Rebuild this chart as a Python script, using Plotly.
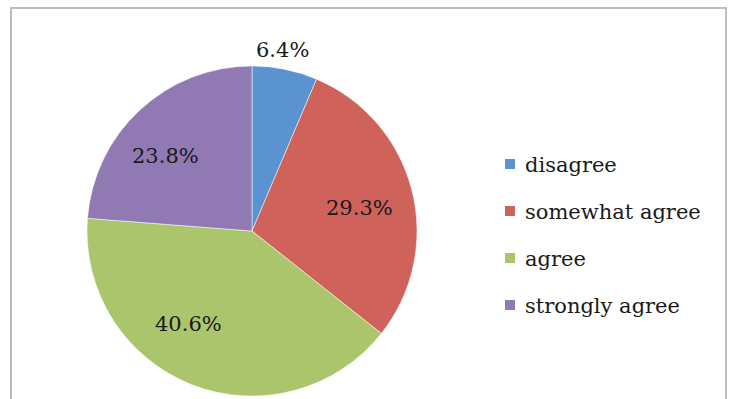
import math
import plotly.graph_objects as go

# Survey responses (percent of respondents)
labels = ["disagree", "somewhat agree", "agree", "strongly agree"]
values = [6.4, 29.3, 40.6, 23.8]
colors = ["#5A93CF", "#D0625C", "#AAC56C", "#9179B3"]

W, H = 730, 399
FONT = "DejaVu Serif"

# pie geometry in pixels
CX, CY, R = 252, 231, 165

# label placement: angular nudge (deg) and radial fraction per slice
label_nudge = [-1.8, 2.3, 13.1, -6.1]
label_frac = [1.113, 0.669, 0.684, 0.692]


def px(x):
    return x / W


def py(y):
    return 1 - y / H


fig = go.Figure(
    go.Pie(
        labels=labels,
        values=values,
        sort=False,
        direction="clockwise",
        rotation=0,
        marker=dict(colors=colors, line=dict(color="rgba(255,255,255,0.5)", width=1)),
        textinfo="none",
        hoverinfo="label+percent",
        showlegend=False,
        domain=dict(x=[px(CX - R), px(CX + R)], y=[py(CY + R), py(CY - R)]),
    )
)

annotations = []
total = sum(values)
cum = 0.0
for i, v in enumerate(values):
    ang = math.radians(360 * (cum + v / 2) / total + label_nudge[i])
    r = label_frac[i] * R
    x = CX + r * math.sin(ang)
    y = CY - r * math.cos(ang)
    annotations.append(
        dict(
            x=px(x), y=py(y), xref="paper", yref="paper",
            text=f"{v:.1f}%", showarrow=False,
            xanchor="center", yanchor="middle",
            font=dict(family=FONT, size=21, color="#1a1a1a"),
        )
    )
    cum += v

# legend drawn as swatches + labels
shapes = []
LEG_X, LEG_Y0, LEG_DY, SW = 505, 164, 47, 10
for i, name in enumerate(labels):
    yc = LEG_Y0 + i * LEG_DY
    shapes.append(
        dict(
            type="rect", xref="paper", yref="paper",
            x0=px(LEG_X), x1=px(LEG_X + SW),
            y0=py(yc + SW / 2), y1=py(yc - SW / 2),
            fillcolor=colors[i], line=dict(width=0),
        )
    )
    annotations.append(
        dict(
            x=px(LEG_X + 18), y=py(yc + 1), xref="paper", yref="paper",
            text=name, showarrow=False, xanchor="left", yanchor="middle",
            font=dict(family=FONT, size=21, color="#1a1a1a"),
        )
    )

# chart frame (open at the bottom edge)
shapes.append(
    dict(
        type="path", xref="paper", yref="paper",
        path=f"M {px(11)},{py(402)} L {px(11)},{py(8)} L {px(726)},{py(8)} L {px(726)},{py(402)}",
        line=dict(color="#BDBDBD", width=2),
    )
)

fig.update_layout(
    width=W, height=H,
    margin=dict(l=0, r=0, t=0, b=0),
    paper_bgcolor="white",
    plot_bgcolor="white",
    shapes=shapes,
    annotations=annotations,
)

fig.write_html("out.html")
